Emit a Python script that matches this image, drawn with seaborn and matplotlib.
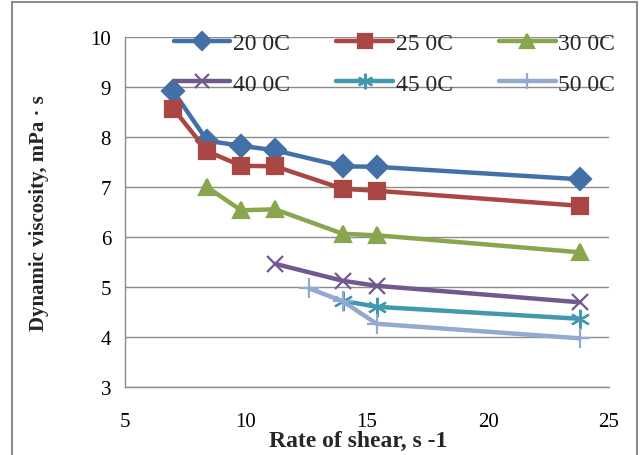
import matplotlib
matplotlib.use("Agg")
import matplotlib.pyplot as plt
import pandas as pd
import seaborn as sns
from matplotlib.patches import Rectangle

# datos (velocidad de corte y viscosidad)
x_20 = [7.0, 8.4, 9.8, 11.2, 14.0, 15.4, 23.8]
v_20 = [8.92, 7.93, 7.83, 7.74, 7.42, 7.41, 7.16]
x_25 = [7.0, 8.4, 9.8, 11.2, 14.0, 15.4, 23.8]
v_25 = [8.57, 7.72, 7.43, 7.42, 6.97, 6.93, 6.63]
x_30 = [8.4, 9.8, 11.2, 14.0, 15.4, 23.8]
v_30 = [7.0, 6.54, 6.56, 6.07, 6.04, 5.70]
x_40 = [11.2, 14.0, 15.4, 23.8]
v_40 = [5.47, 5.13, 5.03, 4.70]
x_45 = [14.0, 15.4, 23.8]
v_45 = [4.73, 4.61, 4.37]
x_50 = [12.6, 14.0, 15.4, 23.8]
v_50 = [4.98, 4.72, 4.27, 3.98]

labels = ["20 0C", "25 0C", "30 0C", "40 0C", "45 0C", "50 0C"]
colores = ["#4470A8", "#AA4643", "#89A54E", "#71588F", "#4198AF", "#93A9CF"]
marcadores = ["D", "s", "^", "x", (6, 2, 0), "+"]
tamanos = [11, 12, 12, 12, 14, 14]

series = [(x_20, v_20), (x_25, v_25), (x_30, v_30),
          (x_40, v_40), (x_45, v_45), (x_50, v_50)]

sns.set_theme(style="white")
plt.rcParams["font.family"] = ["Liberation Serif", "DejaVu Serif"]

fig = plt.figure(figsize=(6.4, 4.56), dpi=100)
ax = fig.add_axes([125 / 640, 1 - 388.3 / 456, 484 / 640, 350 / 456])

for (xs, vs), lab, col, mk, ms in zip(series, labels, colores, marcadores, tamanos):
    df = pd.DataFrame({"x": xs, "y": vs})
    sns.lineplot(data=df, x="x", y="y", ax=ax, color=col, linewidth=3.2,
                 marker=mk, markersize=ms, markeredgecolor=col,
                 markeredgewidth=1.6, label=lab, sort=False)

ax.set_xlim(5, 25)
ax.set_ylim(3, 10)
ax.set_xticks([5, 10, 15, 20, 25])
ax.set_yticks(range(3, 11))
ax.grid(axis="y", color="#8C8C8C", linewidth=1)
ax.set_axisbelow(True)
for s in ["top", "right"]:
    ax.spines[s].set_visible(False)
for s in ["left", "bottom"]:
    ax.spines[s].set_color("#8C8C8C")
    ax.spines[s].set_linewidth(1)
ax.tick_params(axis="both", length=0, labelsize=15, colors="black")
ax.tick_params(axis="x", pad=18)
ax.tick_params(axis="y", pad=10)

ax.set_xlabel("Rate of shear, s -1", fontsize=17, fontweight="bold")
ax.xaxis.set_label_coords(0.482, -0.168)
ax.xaxis.label.set_va("baseline")
ax.set_ylabel("Dynamic viscosity, mPa · s", fontsize=15, fontweight="bold", labelpad=30)

# leyenda por filas: 20/25/30 arriba, 40/45/50 abajo
h, l = ax.get_legend_handles_labels()
orden = [0, 3, 1, 4, 2, 5]
leg = ax.legend([h[i] for i in orden], [l[i] for i in orden],
                loc="upper left", bbox_to_anchor=(162 / 640, 1 - 22 / 456),
                bbox_transform=fig.transFigure, ncol=3, frameon=False,
                fontsize=17, handlelength=2.4, handletextpad=0.12,
                columnspacing=1.95, labelspacing=0.8, borderpad=0, markerscale=0.8)

# marco exterior gris (sin linea abajo, queda fuera de la imagen)
fig.patches.append(Rectangle((12 / 640, -10 / 456), 625 / 640, 463 / 456,
                             transform=fig.transFigure, fill=False,
                             edgecolor="#8C8C8C", linewidth=1.5))

fig.savefig("out.png", dpi=100)
